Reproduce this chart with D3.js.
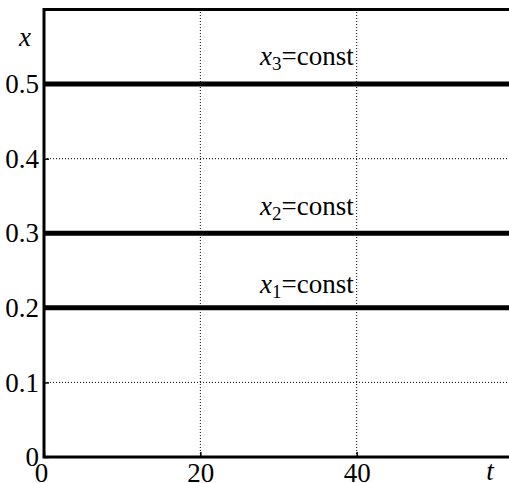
<!DOCTYPE html>
<html>
<head>
<meta charset="utf-8">
<script src="https://cdn.jsdelivr.net/npm/d3@7"></script>
</head>
<body style="margin:0">
<script>
// constant levels x1, x2, x3
let levels = [0.2, 0.3, 0.5];
let level_names = ["1", "2", "3"];
let label_levels = [0.22, 0.324, 0.525];
let x_ticks = [0, 20, 40];
let y_ticks = [0, 0.1, 0.2, 0.3, 0.4, 0.5];
let t_domain = [0, 60];
let x_domain = [0, 0.6];

const FONT = '"Liberation Serif"';
let width = 509, height = 483;
let margin = {left: 44, top: 9.5, right: -4, bottom: 26};

let svg = d3.select("body")
    .append("svg")
    .attr("width", width)
    .attr("height", height)
    .style("display", "block");

let x = d3.scaleLinear()
    .domain(t_domain)
    .range([margin.left, width - margin.right]);

let y = d3.scaleLinear()
    .domain(x_domain)
    .range([height - margin.bottom, margin.top]);

// dotted grid
let grid = svg.append("g");
grid.selectAll("line.gx")
    .data(x_ticks.filter(d => d > 0))
    .enter().append("line")
    .attr("x1", d => x(d)).attr("x2", d => x(d))
    .attr("y1", y(x_domain[0])).attr("y2", y(x_domain[1]))
    .attr("stroke", "#000")
    .attr("stroke-width", 1)
    .attr("stroke-dasharray", "1,2");
grid.selectAll("line.gy")
    .data(y_ticks.filter(d => d > 0))
    .enter().append("line")
    .attr("x1", x(t_domain[0])).attr("x2", x(t_domain[1]))
    .attr("y1", d => y(d)).attr("y2", d => y(d))
    .attr("stroke", "#000")
    .attr("stroke-width", 1)
    .attr("stroke-dasharray", "1,2");

// data lines
svg.selectAll("line.level")
    .data(levels)
    .enter().append("line")
    .attr("class", "level")
    .attr("x1", x(t_domain[0])).attr("x2", x(t_domain[1]))
    .attr("y1", d => y(d)).attr("y2", d => y(d))
    .attr("stroke", "#000")
    .attr("stroke-width", 5);

// axes, ticks inward
let xAxis = svg.append("g")
    .attr("transform", `translate(0,${y(0)})`)
    .call(d3.axisBottom(x).tickValues(x_ticks).tickSize(-5).tickPadding(8).tickFormat(d3.format("d")));
let yAxis = svg.append("g")
    .attr("transform", `translate(${x(0)},0)`)
    .call(d3.axisLeft(y).tickValues(y_ticks).tickSize(-5).tickPadding(5)
        .tickFormat(d => d === 0 ? "0" : d3.format(".1f")(d)));

[xAxis, yAxis].forEach(function(a) {
    a.attr("font-family", null).attr("font-size", null);
    a.select(".domain").remove();
    a.selectAll(".tick line").attr("stroke", "#000").attr("stroke-width", 1.5);
    a.selectAll(".tick text").attr("fill", "#000");
});
xAxis.selectAll(".tick text").attr("dy", null).attr("y", 24.5);
xAxis.select(".tick text").attr("dx", -3);

// frame
svg.append("rect")
    .attr("fill", "none")
    .attr("stroke", "#000")
    .attr("stroke-width", 3)
    .attr("x", x(t_domain[0]))
    .attr("y", y(x_domain[1]))
    .attr("width", x(t_domain[1]) - x(t_domain[0]))
    .attr("height", y(x_domain[0]) - y(x_domain[1]));

// level labels
let labels = svg.selectAll("text.lab")
    .data(label_levels)
    .enter().append("text")
    .attr("class", "lab")
    .attr("x", 260)
    .attr("y", d => y(d));
labels.append("tspan").style("font-style", "italic").text("x");
labels.append("tspan").attr("dy", 5).style("font-size", "19px").text((d, i) => level_names[i]);
labels.append("tspan").attr("dy", -5).text("=const");

// axis labels
svg.append("text")
    .attr("x", 25).attr("y", 46)
    .style("text-anchor", "middle")
    .style("font-style", "italic")
    .text("x");
svg.append("text")
    .attr("x", 490).attr("y", 480)
    .style("text-anchor", "middle")
    .style("font-style", "italic")
    .text("t");

// one font for every text
svg.selectAll("text")
    .style("font-family", FONT)
    .style("font-size", "27px")
    .style("fill", "#000");
</script>
</body>
</html>
